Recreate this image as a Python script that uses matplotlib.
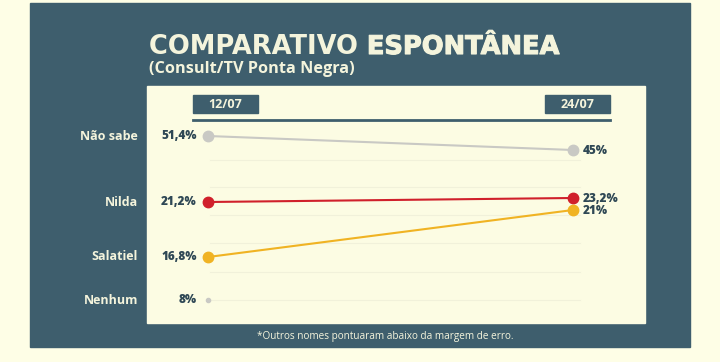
import numpy as np
import matplotlib.pyplot as plt
from matplotlib.patches import Rectangle
from matplotlib import transforms
import matplotlib.patheffects as pe

# data
dates = ["12/07", "24/07"]
rows = ["Não sabe", "Nilda", "Salatiel", "Nenhum"]
nao_sabe = [51.4, 45.0]
nilda = [21.2, 23.2]
salatiel = [16.8, 21.0]
nenhum = [8.0, None]
labels_left = ["51,4%", "21,2%", "16,8%", "8%"]
labels_right = ["45%", "23,2%", "21%", None]

# the original is a schematic slope chart, so the y axis is a piecewise scale
scale_vals = [0, 8, 16.8, 21, 21.2, 23.2, 45, 51.4, 80]
scale_pos = [20, 62, 105, 152, 160, 164, 212, 226, 300]

def fwd(v):
    return np.interp(v, scale_vals, scale_pos)

def inv(p):
    return np.interp(p, scale_pos, scale_vals)

BG = "#FEFEE6"
TEAL = "#3E5E6D"
INNER = "#FCFCE3"
DARK = "#2F4855"
LIGHT = "#F4F4DC"
colors = ["#C9C9C4", "#D0202B", "#F0B323", "#C9C9C4"]

W, H = 720, 362
fig = plt.figure(figsize=(7.2, 3.62), dpi=100, facecolor=BG)

# decoration layer in pixel coords
bg = fig.add_axes([0, 0, 1, 1])
bg.set_xlim(0, W)
bg.set_ylim(H, 0)
bg.axis("off")
bg.add_patch(Rectangle((30, 3), 660, 344, color=TEAL))
bg.add_patch(Rectangle((147, 86), 498, 237, color=INNER))
for gy in [160, 187, 215, 243, 272, 300]:
    bg.plot([210, 580], [gy, gy], color="#F1F1DA", lw=0.8)

fs = ["Open Sans"]
tf = ["DejaVu Sans"]
t1 = bg.text(149, 54, "COMPARATIVO ", color=LIGHT, fontsize=18.5, fontweight="bold",
             family=tf, va="baseline")
fig.canvas.draw()
bb = t1.get_window_extent()
bg.text(149 + bb.width, 54, "ESPONTÂNEA", color=LIGHT, fontsize=18.5, fontweight="bold",
        family=tf, va="baseline",
        path_effects=[pe.withStroke(linewidth=0.8, foreground=LIGHT)])
bg.text(149, 73, "(Consult/TV Ponta Negra)", color=LIGHT, fontsize=11.7, fontweight="bold",
        family=fs, va="baseline")
bg.text(385, 336, "*Outros nomes pontuaram abaixo da margem de erro.", color=LIGHT,
        fontsize=7.2, family=fs, ha="center", va="center")

# header boxes
box_x = [193, 545]
for bx, d in zip(box_x, dates):
    bg.add_patch(Rectangle((bx, 95), 65, 18, color=TEAL))
    bg.text(bx + 32.5, 104.5, d, color=LIGHT, fontsize=9, fontweight="bold", family=fs,
            ha="center", va="center")
bg.plot([193, 610], [119.5, 119.5], color=TEAL, lw=2)

# chart layer
ax = fig.add_axes([147 / W, (H - 323) / H, 498 / W, 237 / H])
ax.set_facecolor("none")
ax.set_yscale("function", functions=(fwd, inv))
ax.set_xlim(-(208 - 147) / 365, 1 + (645 - 573) / 365)
ax.set_ylim(inv(H - 323), inv(H - 86))
ax.axis("off")

series = [nao_sabe, nilda, salatiel, nenhum]
yt = transforms.blended_transform_factory(fig.transFigure, ax.transData)
for k, vals in enumerate(series):
    xs = [i for i, v in enumerate(vals) if v is not None]
    ys = [v for v in vals if v is not None]
    ms = 3 if k == 3 else 7.5
    ax.plot(xs, ys, color=colors[k], lw=1.5, marker="o", ms=ms, zorder=3)
    ax.annotate(labels_left[k], (0, vals[0]), xytext=(-8, 0), textcoords="offset points",
                ha="right", va="center", color=DARK, fontsize=8.5, fontweight="extra bold",
                family=fs)
    if labels_right[k]:
        ax.annotate(labels_right[k], (1, vals[1]), xytext=(7, -1), textcoords="offset points",
                    ha="left", va="center", color=DARK, fontsize=8.5, fontweight="extra bold",
                    family=fs)
    ax.text(138 / W, vals[0], rows[k], transform=yt, ha="right", va="center", color=LIGHT,
            fontsize=9, fontweight="bold", family=fs)

fig.savefig("out.png", dpi=100, facecolor=BG)
